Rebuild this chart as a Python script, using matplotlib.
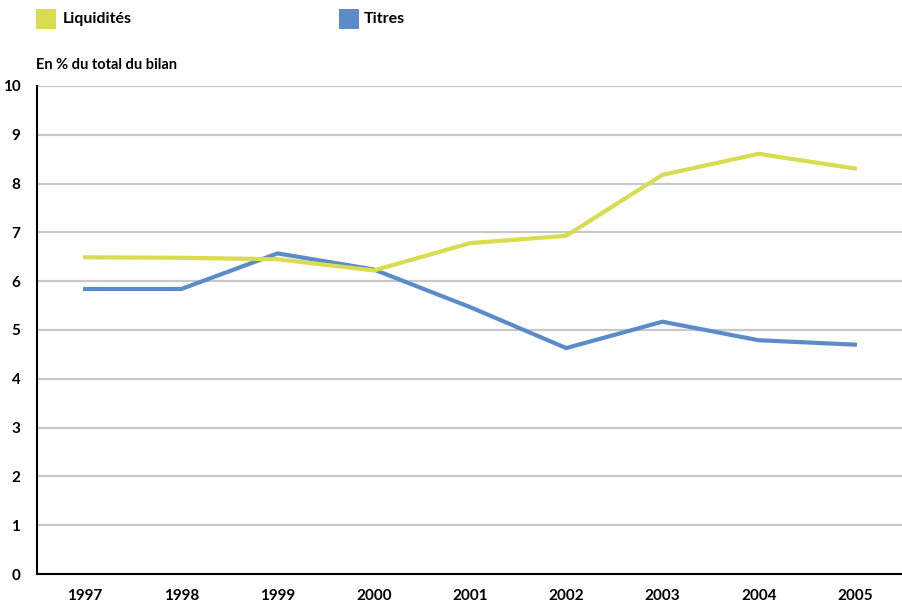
import matplotlib
matplotlib.use("Agg")
import matplotlib.pyplot as plt
from matplotlib.patches import Rectangle

years = ["1997", "1998", "1999", "2000", "2001", "2002", "2003", "2004", "2005"]
liquidites = [6.49, 6.48, 6.45, 6.22, 6.78, 6.93, 8.18, 8.61, 8.31]
titres = [5.84, 5.84, 6.57, 6.24, 5.47, 4.63, 5.17, 4.79, 4.70]
series_names = ["Liquidités", "Titres"]
y_ticks = list(range(0, 11))
y_title = "En % du total du bilan"

YELLOW = "#d9dc4f"
BLUE = "#5b8cc9"
GRID = "#c8c8c8"

plt.rcParams["font.family"] = ["Lato", "DejaVu Sans"]
plt.rcParams["font.weight"] = "bold"

fig = plt.figure(figsize=(9.03, 6.05), dpi=100)
W, H = 903, 605
ax = fig.add_axes([37 / W, 1 - 574 / H, (903 - 37) / W, (574 - 86) / H])

x = list(range(len(years)))
ax.plot(x, titres, color=BLUE, lw=3.0, solid_joinstyle="miter", zorder=3)
ax.plot(x, liquidites, color=YELLOW, lw=3.0, solid_joinstyle="miter", zorder=4)

ax.set_xlim(-0.5, len(years) - 0.5)
ax.set_ylim(0, 10)
ax.set_yticks(y_ticks)
ax.set_yticklabels([str(v) for v in y_ticks], fontsize=11, fontweight="bold")
ax.set_xticks(x)
ax.set_xticklabels(years, fontsize=11, fontweight="bold")
ax.tick_params(axis="both", length=0)
ax.tick_params(axis="y", pad=12)
ax.tick_params(axis="x", pad=11)

for v in y_ticks[1:]:
    ax.axhline(v, color=GRID, lw=1.6, zorder=1)

for side in ["top", "right"]:
    ax.spines[side].set_visible(False)
ax.spines["left"].set_color("black")
ax.spines["left"].set_linewidth(1.5)
ax.spines["bottom"].set_color("black")
ax.spines["bottom"].set_linewidth(1.5)
ax.spines["left"].set_zorder(5)
ax.spines["bottom"].set_zorder(5)

# Legend: coloured squares with labels along the top
for (sx, tx, col, name) in [(36, 63, YELLOW, series_names[0]), (339, 364, BLUE, series_names[1])]:
    fig.add_artist(Rectangle((sx / W, 1 - 29 / H), 20 / W, 20 / H,
                             transform=fig.transFigure, color=col, lw=0))
    fig.text(tx / W, 1 - 19 / H, name, fontsize=11.5, fontweight="bold",
             va="center", ha="left")

fig.text(36 / W, 1 - 65 / H, y_title, fontsize=10.5, fontweight="bold",
         va="center", ha="left")

fig.savefig("out.png", dpi=100, facecolor="white")
